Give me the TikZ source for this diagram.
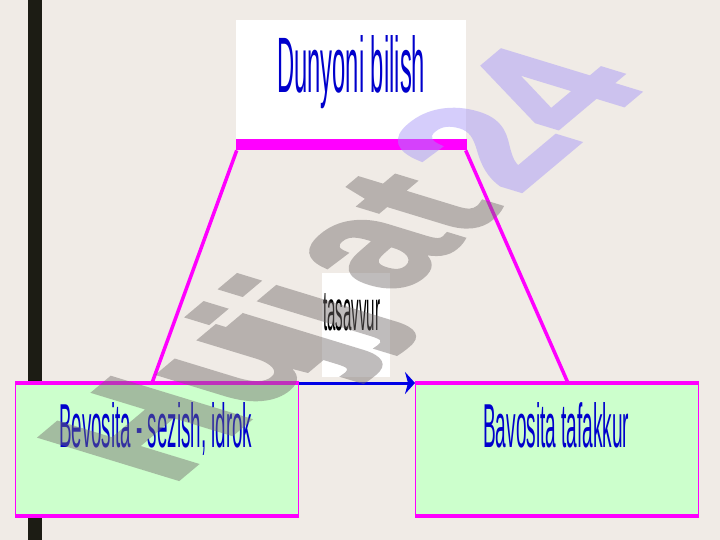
\documentclass[tikz,border=0pt]{standalone}
\usepackage{fontspec}
\usepackage{graphicx}
\setmainfont{Liberation Sans}
\newfontfamily\wmfont{Liberation Sans}[FakeBold=2.5]
\usetikzlibrary{arrows.meta}
\definecolor{bg}{RGB}{240,235,230}
\definecolor{barblk}{RGB}{28,28,20}
\definecolor{mag}{RGB}{255,0,255}
\definecolor{boxgreen}{RGB}{204,255,204}
\definecolor{txtblue}{RGB}{0,0,204}
\definecolor{arrblue}{RGB}{0,0,230}
\definecolor{wmgray}{RGB}{115,108,108}
\definecolor{wmlav}{RGB}{162,146,248}
\begin{document}
\begin{tikzpicture}[x=1pt,y=-1pt,
  greenbox/.style={fill=boxgreen, draw=mag, line width=1.2pt, inner sep=0pt, anchor=north west, minimum width=283pt, minimum height=132pt},
  magedge/.style={draw=mag, line width=4pt},
  magline/.style={draw=mag, line width=3.5pt},
  lbl/.style={inner sep=0pt, anchor=base west, text=txtblue},
  wmtext/.style={transform shape, inner sep=0pt, anchor=base west, text=wmgray, font=\wmfont\bfseries\fontsize{118}{118}\selectfont},
]
\useasboundingbox (0,0) rectangle (720,540);
\fill[bg] (0,0) rectangle (720,540);
\fill[barblk] (28,0) rectangle (42,540);
% top box
\node[fill=white, inner sep=0pt, anchor=north west, minimum width=230pt, minimum height=119pt] (topbox) at (235.5,20) {};
\node[fill=mag, inner sep=0pt, anchor=north west, minimum width=231pt, minimum height=11pt] (topbar) at (235.5,139) {};
\node[lbl] (t1) at (277,93) {\resizebox{148pt}{57pt}{Dunyoni bilish}};
% bottom boxes
\node[greenbox] (leftbox) at (15,383) {};
\node[greenbox] (rightbox) at (415,383) {};
\draw[magedge] (leftbox.north west) -- (leftbox.north east);
\draw[magedge] (leftbox.south west) -- (leftbox.south east);
\draw[magedge] (rightbox.north west) -- (rightbox.north east);
\draw[magedge] (rightbox.south west) -- (rightbox.south east);
\node[lbl] (t2) at (59,447) {\resizebox{193pt}{45pt}{Bevosita - sezish, idrok}};
\node[lbl] (t3) at (483,447) {\resizebox{146pt}{45pt}{Bavosita tafakkur}};
% trapezoid sides
\coordinate (lb) at (152,383);
\coordinate (rb) at (568,383);
\draw[magline] ([xshift=1.2pt]topbar.south west) -- (lb);
\draw[magline] ([xshift=-1.2pt]topbar.south east) -- (rb);
% tasavvur
\node[fill=white, inner sep=0pt, anchor=north west, minimum width=68pt, minimum height=104pt] (tasbox) at (322,273) {};
\node[inner sep=0pt, anchor=base west, text=black] (tas) at (323,330) {\resizebox{57pt}{37pt}{tasavvur}};
% arrow
\draw[arrblue, line width=3pt, -{Stealth[length=10pt,width=22pt,inset=3pt]}] (leftbox.north east) -- (rightbox.north west);
% watermark
\begin{scope}[transparency group, opacity=0.45]
\begin{scope}[shift={(170,486)}, xscale=1.975, rotate=58.9]
\node[wmtext] (wm1) at (0,0) {Hu};
\node[wmtext] (wm2) at (141,6) {jj};
\node[wmtext] (wm3) at (222,0) {at};
\node[wmtext, text=wmlav] (wm4) at (340,0) {24};
\end{scope}
\end{scope}
\end{tikzpicture}
\end{document}
